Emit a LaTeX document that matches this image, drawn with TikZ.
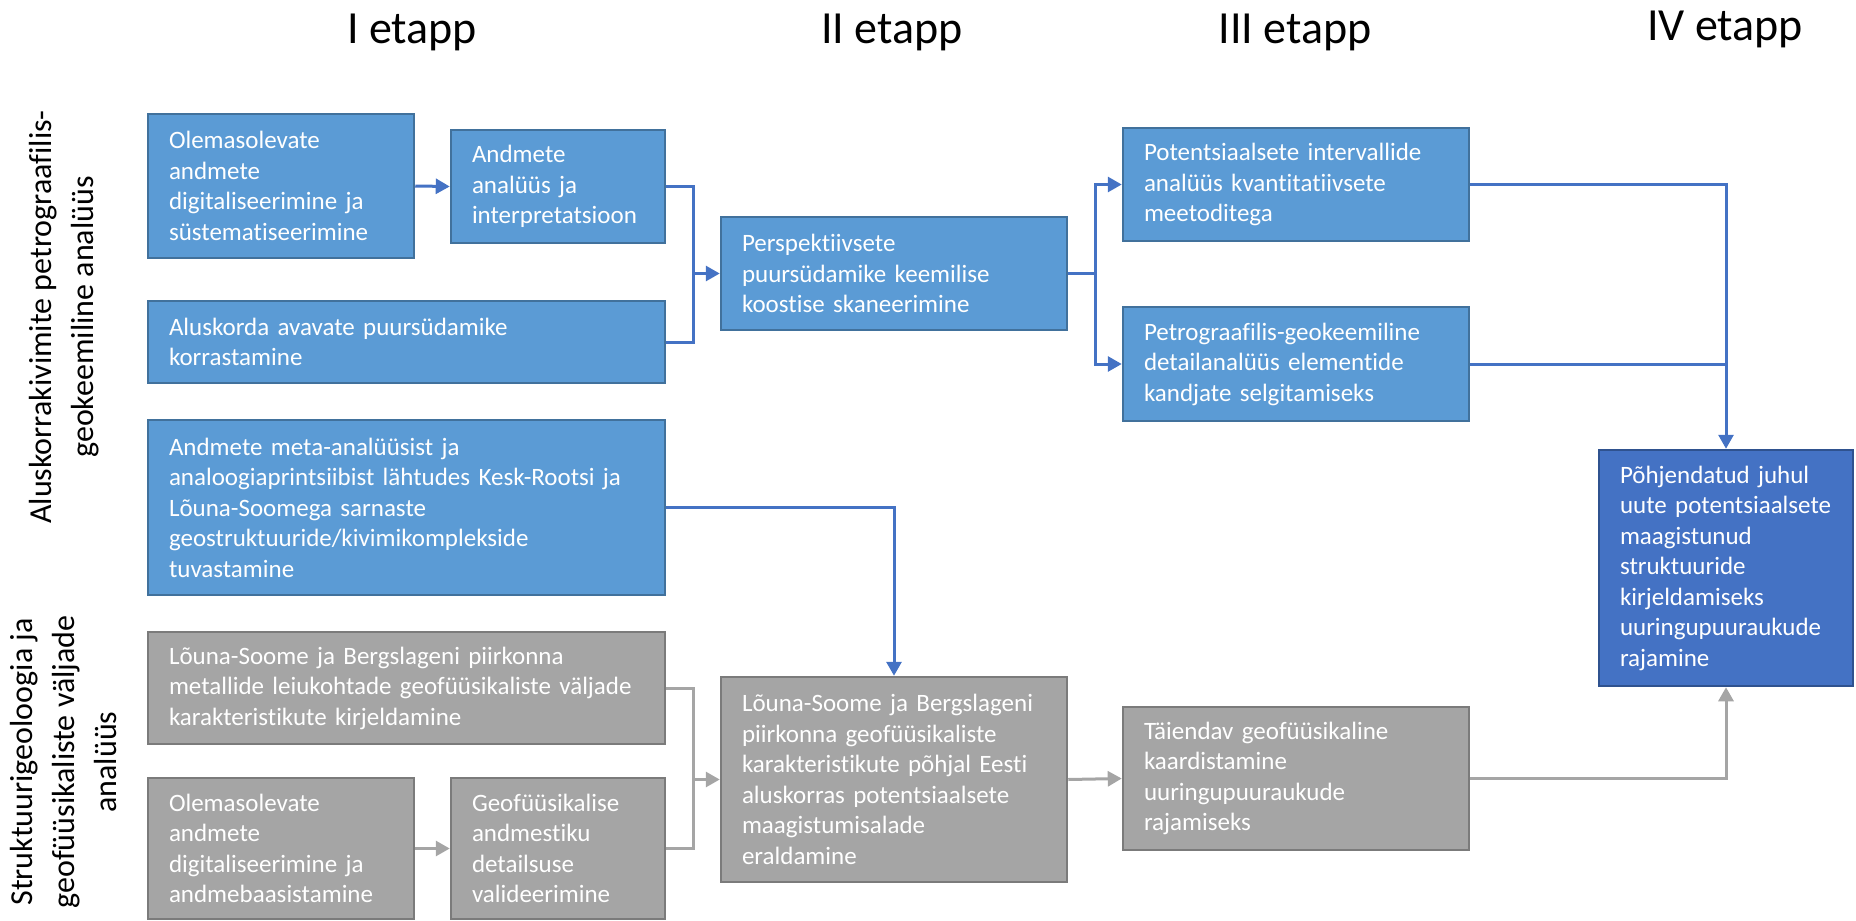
\documentclass[tikz,border=0pt]{standalone}
\usepackage{fontspec}
\setmainfont{Carlito}[Ligatures=NoCommon]
\usetikzlibrary{arrows.meta}
\definecolor{bfill}{HTML}{5B9BD5}
\definecolor{bdraw}{HTML}{41719C}
\definecolor{dfill}{HTML}{4472C4}
\definecolor{ddraw}{HTML}{2F528F}
\definecolor{gfill}{HTML}{A5A5A5}
\definecolor{gdraw}{HTML}{7B7B7B}
\definecolor{barrow}{HTML}{4472C4}
\definecolor{garrow}{HTML}{A5A5A5}
\tikzset{
  boxbase/.style={line width=2.5pt, text=white, align=left, inner xsep=21pt, inner ysep=0pt,
    font=\fontsize{25pt}{30.5pt}\selectfont},
  bluebox/.style={boxbase, fill=bfill, draw=bdraw},
  darkbox/.style={boxbase, fill=dfill, draw=ddraw},
  graybox/.style={boxbase, fill=gfill, draw=gdraw},
  bline/.style={draw=barrow, line width=3pt},
  gline/.style={draw=garrow, line width=3pt},
  tip/.style={-{Triangle[length=14pt,width=15pt]}},
  stagetitle/.style={anchor=base, font=\fontsize{46pt}{55pt}\selectfont},
  sidelabel/.style={rotate=90, align=center, font=\fontsize{32pt}{42pt}\selectfont}
}
\begin{document}
\begin{tikzpicture}[x=1pt,y=-1pt]
\useasboundingbox (0,0) rectangle (1856,921);
% titles
\node[stagetitle] (t1) at (412,43) {I etapp};
\node[stagetitle] (t2) at (892,43) {II etapp};
\node[stagetitle] (t3) at (1295,43) {III etapp};
\node[stagetitle] (t4) at (1725,40) {IV etapp};
% side labels
\node[sidelabel] (s1) at (64,317) {Aluskorrakivimite petrograafilis-\\geokeemiline analüüs};
\node[sidelabel] (s2) at (64,762) {Struktuurigeoloogia ja\\geofüüsikaliste väljade\\analüüs};
% blue boxes
\node[bluebox, minimum width=266pt, minimum height=144pt, text width=224pt] (A) at (281,186)
  {Olemasolevate\\andmete\\digitaliseerimine ja\\süstematiseerimine};
\node[bluebox, minimum width=214pt, minimum height=113pt, text width=172pt] (B) at (558,186.5)
  {Andmete\\analüüs ja\\interpretatsioon};
\node[bluebox, minimum width=517pt, minimum height=82pt, text width=475pt] (C) at (406.5,342)
  {Aluskorda avavate puursüdamike\\korrastamine};
\node[bluebox, minimum width=346pt, minimum height=113pt, text width=304pt] (D) at (894,273.5)
  {Perspektiivsete\\puursüdamike keemilise\\koostise skaneerimine};
\node[bluebox, minimum width=517pt, minimum height=175pt, text width=475pt] (E) at (406.5,507.5)
  {Andmete meta-analüüsist ja\\analoogiaprintsiibist lähtudes Kesk-Rootsi ja\\Lõuna-Soomega sarnaste\\geostruktuuride/kivimikomplekside\\tuvastamine};
\node[bluebox, minimum width=346pt, minimum height=113pt, text width=304pt] (F) at (1296,184.5)
  {Potentsiaalsete intervallide\\analüüs kvantitatiivsete\\meetoditega};
\node[bluebox, minimum width=346pt, minimum height=114pt, text width=304pt] (G) at (1296,364)
  {Petrograafilis-geokeemiline\\detailanalüüs elementide\\kandjate selgitamiseks};
\node[darkbox, minimum width=254pt, minimum height=236pt, text width=212pt] (H) at (1726,568)
  {Põhjendatud juhul\\uute potentsiaalsete\\maagistunud\\struktuuride\\kirjeldamiseks\\uuringupuuraukude\\rajamine};
% gray boxes
\node[graybox, minimum width=517pt, minimum height=112pt, text width=475pt] (J) at (406.5,688)
  {Lõuna-Soome ja Bergslageni piirkonna\\metallide leiukohtade geofüüsikaliste väljade\\karakteristikute kirjeldamine};
\node[graybox, minimum width=266pt, minimum height=141pt, text width=224pt] (K) at (281,848.5)
  {Olemasolevate\\andmete\\digitaliseerimine ja\\andmebaasistamine};
\node[graybox, minimum width=214pt, minimum height=141pt, text width=172pt] (L) at (558,848.5)
  {Geofüüsikalise\\andmestiku\\detailsuse\\valideerimine};
\node[graybox, minimum width=346pt, minimum height=205pt, text width=304pt] (I) at (894,779.5)
  {Lõuna-Soome ja Bergslageni\\piirkonna geofüüsikaliste\\karakteristikute põhjal Eesti\\aluskorras potentsiaalsete\\maagistumisalade\\eraldamine};
\node[graybox, minimum width=346pt, minimum height=143pt, text width=304pt] (M) at (1296,778.5)
  {Täiendav geofüüsikaline\\kaardistamine\\uuringupuuraukude\\rajamiseks};
% junctions
\coordinate (j1) at (693,273.5);
\coordinate (j2) at (1095,273.5);
\coordinate (j3) at (693,779.5);
% blue connectors
\draw[bline, tip] (A.east) -- (B.west);
\draw[bline] (B.east) -| (j1);
\draw[bline] (C.east) -| (j1);
\draw[bline, tip] (j1) -- (D.west);
\draw[bline] (D.east) -- (j2);
\draw[bline, tip] (j2) |- (F.west);
\draw[bline, tip] (j2) |- (G.west);
\draw[bline, tip] (F.east) -| (H.north);
\draw[bline] (G.east) -- (G.east -| H.north);
\draw[bline, tip] (E.east) -| (I.north);
% gray connectors
\draw[gline, tip] (K.east) -- (L.west);
\draw[gline] (J.east) -| (j3);
\draw[gline] (L.east) -| (j3);
\draw[gline, tip] (j3) -- (I.west);
\draw[gline, tip] (I.east) -- (M.west);
\draw[gline, tip] (M.east) -| (H.south);
\end{tikzpicture}
\end{document}
